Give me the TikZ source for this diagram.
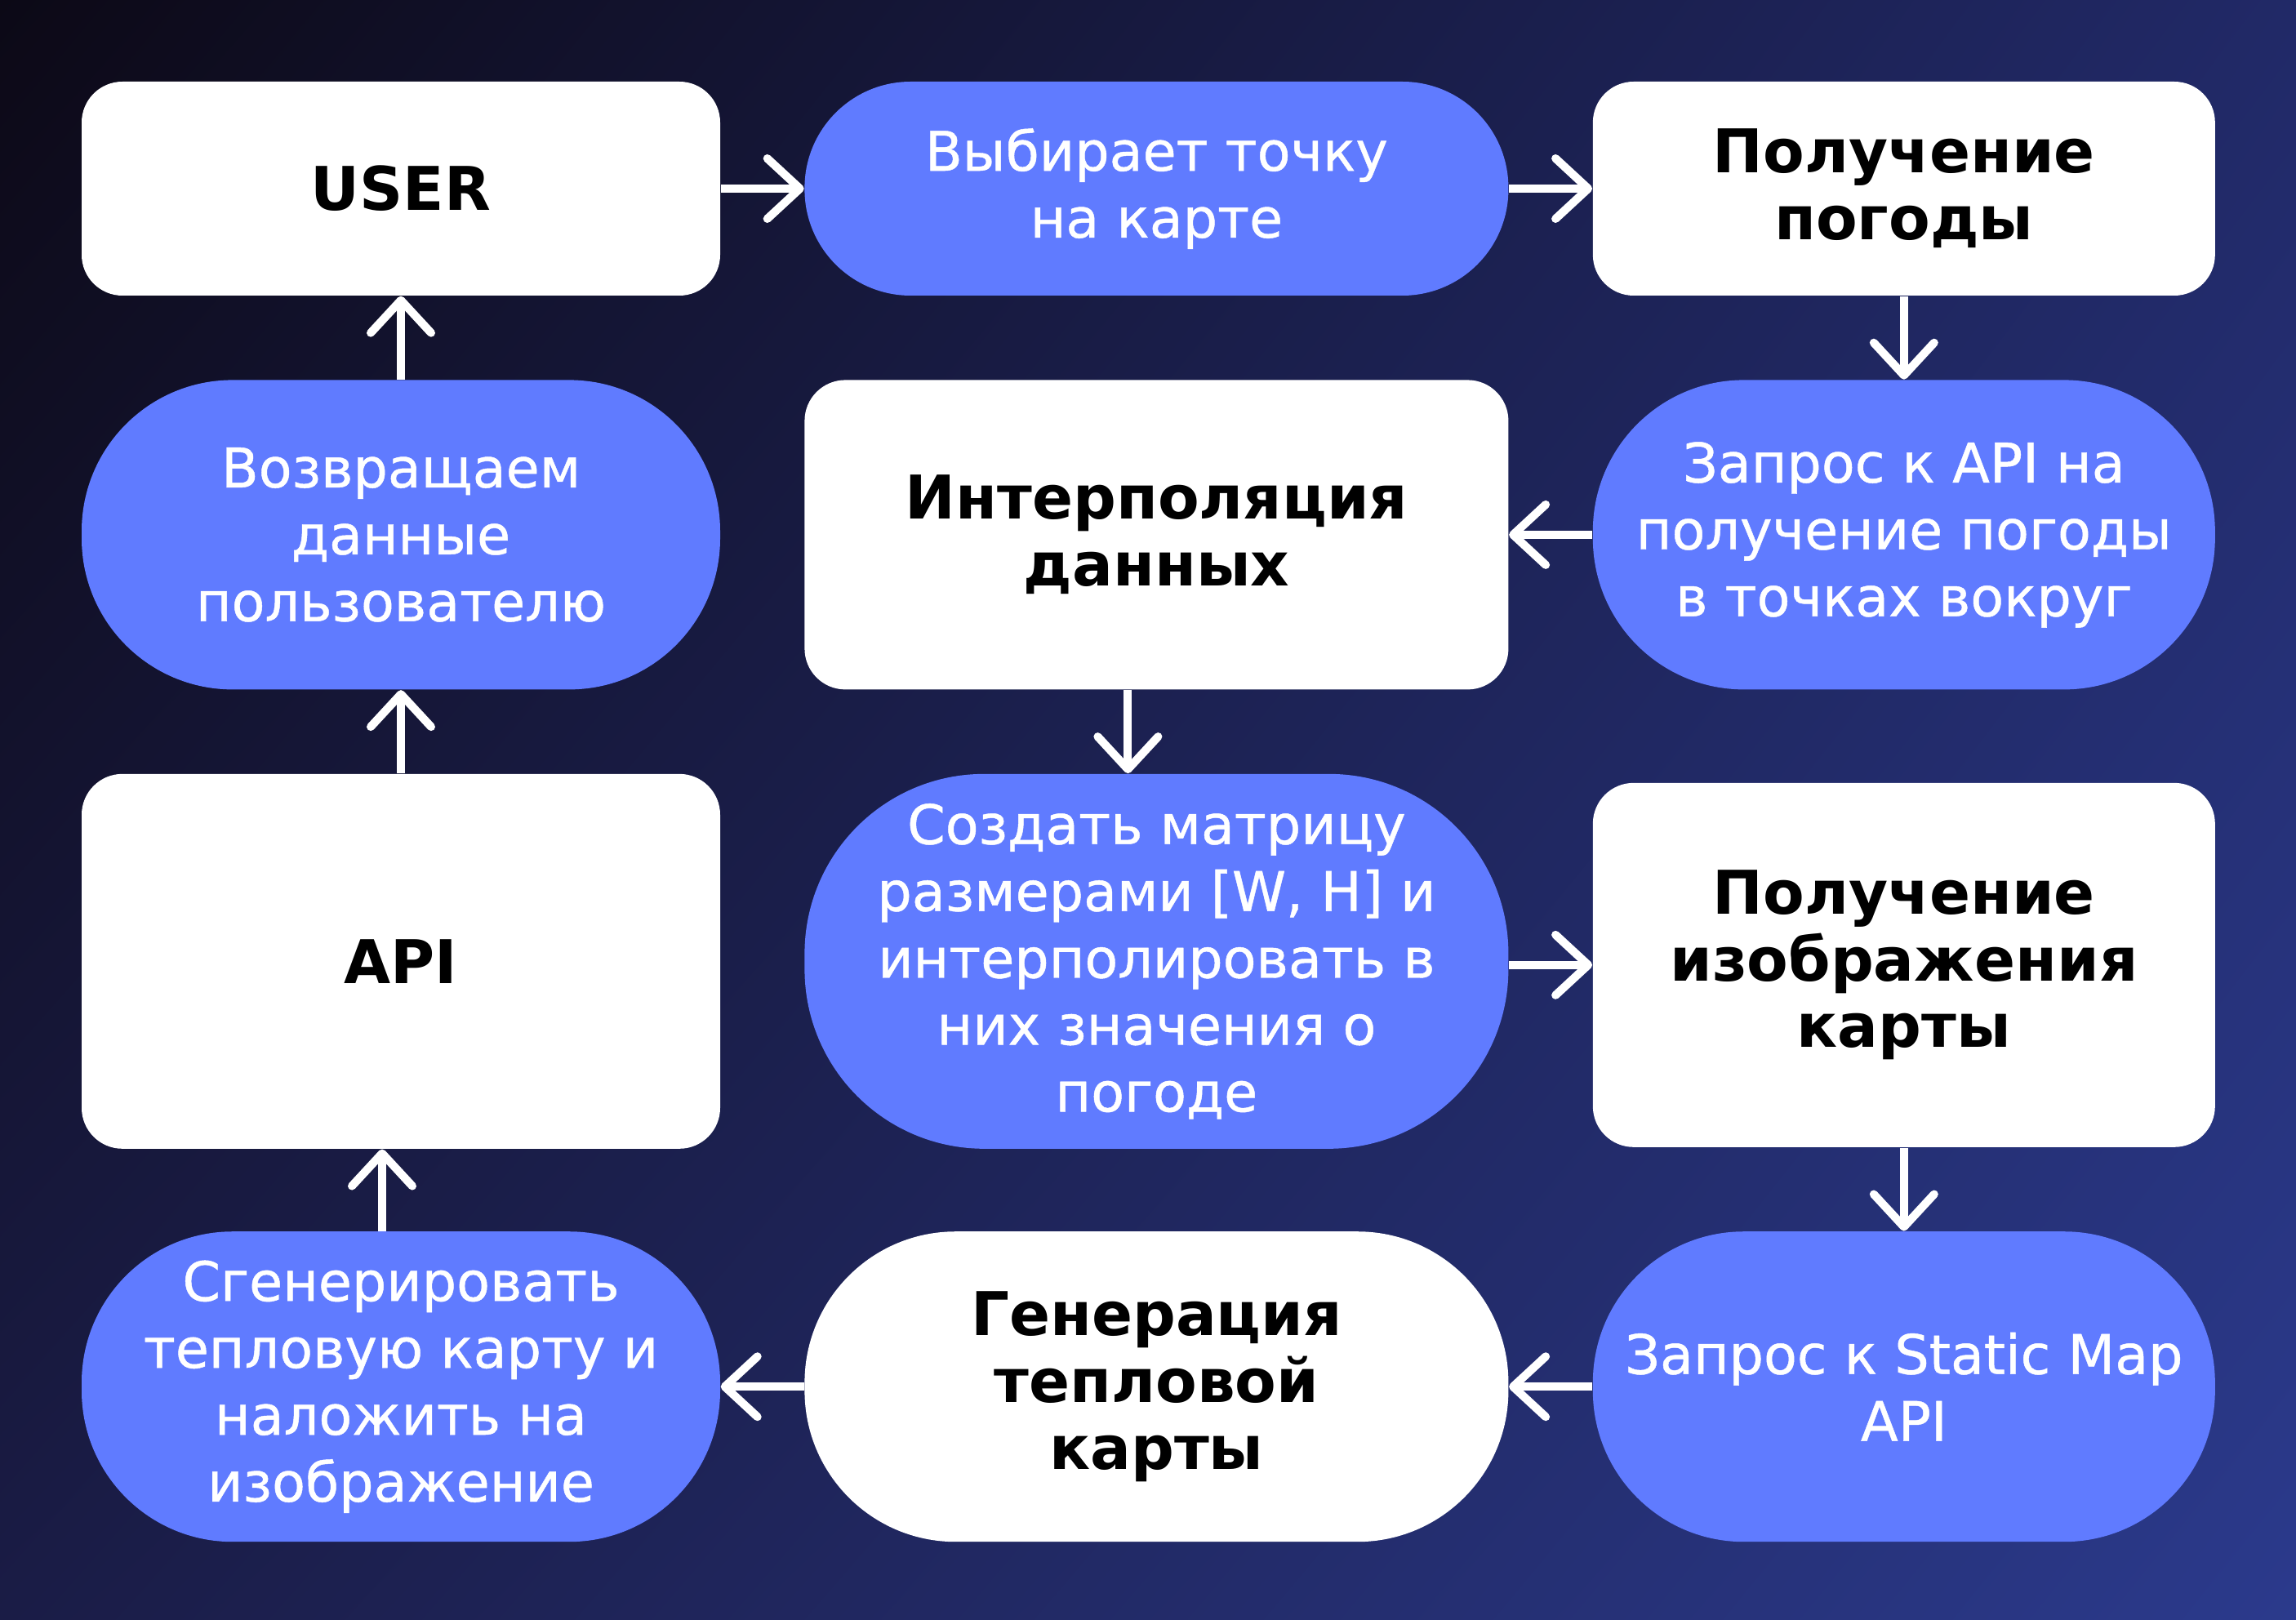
\documentclass[tikz,border=0pt]{standalone}
\usepackage{fontspec}
\setmainfont{DejaVu Sans}
\newfontfamily\mediumfamily{DejaVu Sans}[FakeBold=0.7]
\usepackage{tikz}
\usetikzlibrary{arrows.meta, positioning, shadings}
\definecolor{bgtl}{RGB}{12,9,22}
\definecolor{bgtr}{RGB}{33,41,103}
\definecolor{bgbl}{RGB}{26,28,70}
\definecolor{bgbr}{RGB}{43,58,140}
\definecolor{pillblue}{RGB}{96,123,255}
\newcommand{\boxfont}{\fontsize{21}{23.3}\selectfont\bfseries}
\newcommand{\pillfont}{\fontsize{19}{23.3}\selectfont\mediumfamily}
\tikzset{
  whitebox/.style={rectangle, fill=white, text=black, align=center,
    inner sep=0pt, rounded corners=0.5cm, font=\boxfont},
  bluebox/.style={rectangle, fill=pillblue, text=white, align=center,
    inner sep=0pt, rounded corners=1.85cm, font=\pillfont},
  arrow/.style={-{Straight Barb[length=0.4cm, width=0.74cm, round]},
    line width=0.1cm, color=white}
}

\begin{document}
\begin{tikzpicture}[node distance=1.02cm]
  % Background
  \shade[upper left=bgtl, upper right=bgtr, lower left=bgbl, lower right=bgbr] (0,0) rectangle (28.12,-19.84);
  \useasboundingbox (0,0) rectangle (28.12,-19.84);

  % Top row
  \node[whitebox, minimum width=7.82cm, minimum height=2.62cm] (user) at (4.91,-2.31) {USER};
  \node[bluebox, minimum width=8.62cm, minimum height=2.62cm, rounded corners=1.3cm, right=of user] (pick) {Выбирает точку\\на карте};
  \node[whitebox, minimum width=7.62cm, minimum height=2.62cm, right=of pick] (weather) {Получение\\погоды};

  % Second row
  \node[bluebox, minimum width=7.62cm, minimum height=3.79cm, below=of weather] (request) {Запрос к API на\\получение погоды\\в точках вокруг};
  \node[whitebox, minimum width=8.62cm, minimum height=3.79cm, left=of request] (interp) {Интерполяция\\данных};
  \node[bluebox, minimum width=7.82cm, minimum height=3.79cm, left=of interp] (back) {Возвращаем\\данные\\пользователю};

  % Third row
  \node[whitebox, minimum width=7.82cm, minimum height=4.59cm, below=of back] (api) {API};
  \node[bluebox, minimum width=8.62cm, minimum height=4.59cm, rounded corners=2.2cm, right=of api] (matrix) {Создать матрицу\\размерами [W, H] и\\интерполировать в\\них значения о\\погоде};
  \node[whitebox, minimum width=7.62cm, minimum height=4.46cm, below=1.13cm of request] (image) {Получение\\изображения\\карты};

  % Bottom row
  \node[bluebox, minimum width=7.62cm, minimum height=3.80cm, below=of image] (static) {Запрос к Static Map\\API};
  \node[bluebox, fill=white, text=black, font=\boxfont, minimum width=8.62cm, minimum height=3.80cm, left=of static] (heat) {Генерация\\тепловой\\карты};
  \node[bluebox, minimum width=7.82cm, minimum height=3.80cm, left=of heat] (overlay) {Сгенерировать\\тепловую карту и\\наложить на\\изображение};

  % Connectors
  \draw[arrow] (user) -- (pick);
  \draw[arrow] (pick) -- (weather);
  \draw[arrow] (weather) -- (request);
  \draw[arrow] (request) -- (interp);
  \draw[arrow] ([xshift=-0.35cm]interp.south) -- ([xshift=-0.35cm]matrix.north);
  \draw[arrow] (matrix.east |- image.west) -- (image.west);
  \draw[arrow] (image) -- (static);
  \draw[arrow] (static) -- (heat);
  \draw[arrow] (heat) -- (overlay);
  \draw[arrow] ([xshift=-0.23cm]overlay.north) -- ([xshift=-0.23cm]api.south);
  \draw[arrow] (api) -- (back);
  \draw[arrow] (back) -- (user);
\end{tikzpicture}
\end{document}
